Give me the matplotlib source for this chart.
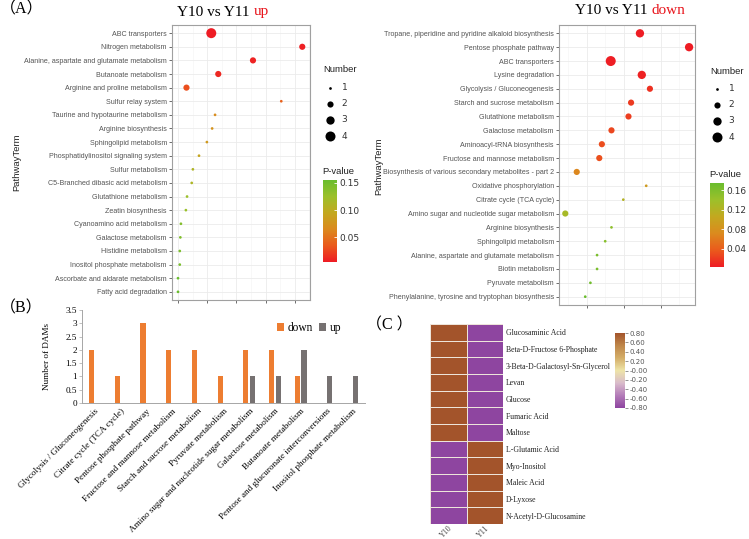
import matplotlib
matplotlib.use('Agg')
import matplotlib.pyplot as plt
import matplotlib.transforms as mtransforms
import numpy as np
from matplotlib.colors import LinearSegmentedColormap, Normalize
from matplotlib.cm import ScalarMappable
from matplotlib.ticker import FuncFormatter

W, H = 749, 539

# ---------------- data ----------------
up_terms = ["ABC transporters", "Nitrogen metabolism",
            "Alanine, aspartate and glutamate metabolism", "Butanoate metabolism",
            "Arginine and proline metabolism", "Sulfur relay system",
            "Taurine and hypotaurine metabolism", "Arginine biosynthesis",
            "Sphingolipid metabolism", "Phosphatidylinositol signaling system",
            "Sulfur metabolism", "C5-Branched dibasic acid metabolism",
            "Glutathione metabolism", "Zeatin biosynthesis",
            "Cyanoamino acid metabolism", "Galactose metabolism",
            "Histidine metabolism", "Inositol phosphate metabolism",
            "Ascorbate and aldarate metabolism", "Fatty acid degradation"]
up_x = [0.214, 0.526, 0.357, 0.238, 0.129, 0.454, 0.227, 0.217, 0.199, 0.172,
        0.151, 0.147, 0.131, 0.127, 0.110, 0.108, 0.106, 0.106, 0.100, 0.100]
up_num = [4, 2, 2, 2, 2, 1, 1, 1, 1, 1, 1, 1, 1, 1, 1, 1, 1, 1, 1, 1]
up_p = [0.005, 0.007, 0.009, 0.011, 0.030, 0.040, 0.068, 0.074, 0.080, 0.092,
        0.110, 0.112, 0.125, 0.126, 0.140, 0.142, 0.145, 0.146, 0.155, 0.155]

down_terms = ["Tropane, piperidine and pyridine alkaloid biosynthesis",
              "Pentose phosphate pathway", "ABC transporters", "Lysine degradation",
              "Glycolysis / Gluconeogenesis", "Starch and sucrose metabolism",
              "Glutathione metabolism", "Galactose metabolism",
              "Aminoacyl-tRNA biosynthesis", "Fructose and mannose metabolism",
              "Biosynthesis of various secondary metabolites - part 2",
              "Oxidative phosphorylation", "Citrate cycle (TCA cycle)",
              "Amino sugar and nucleotide sugar metabolism", "Arginine biosynthesis",
              "Sphingolipid metabolism", "Alanine, aspartate and glutamate metabolism",
              "Biotin metabolism", "Pyruvate metabolism",
              "Phenylalanine, tyrosine and tryptophan biosynthesis"]
down_x = [0.244, 0.377, 0.165, 0.249, 0.271, 0.220, 0.213, 0.167, 0.141, 0.134,
          0.073, 0.261, 0.199, 0.042, 0.167, 0.150, 0.128, 0.128, 0.110, 0.096]
down_num = [3, 3, 4, 3, 2, 2, 2, 2, 2, 2, 2, 1, 1, 2, 1, 1, 1, 1, 1, 1]
down_p = [0.004, 0.003, 0.005, 0.006, 0.015, 0.020, 0.022, 0.027, 0.030, 0.032,
          0.070, 0.090, 0.120, 0.130, 0.150, 0.155, 0.163, 0.164, 0.170, 0.175]

bar_cats = ["Glycolysis / Gluconeogenesis", "Citrate cycle (TCA cycle)",
            "Pentose phosphate pathway", "Fructose and mannose metabolism",
            "Starch and sucrose metabolism", "Pyruvate metabolism",
            "Amino sugar and nucleotide sugar metabolism", "Galactose metabolism",
            "Butanoate metabolism", "Pentose and glucuronate interconversions",
            "Inositol phosphate metabolism"]
bar_down = [2, 1, 3, 2, 2, 1, 2, 2, 1, 0, 0]
bar_up = [0, 0, 0, 0, 0, 0, 1, 1, 2, 1, 1]

heat_rows = ["Glucosaminic Acid", "Beta-D-Fructose 6-Phosphate",
             "3-Beta-D-Galactosyl-Sn-Glycerol", "Levan", "Glucose", "Fumaric Acid",
             "Maltose", "L-Glutamic Acid", "Myo-Inositol", "Maleic Acid", "D-Lyxose",
             "N-Acetyl-D-Glucosamine"]
heat_cols = ["Y10", "Y11"]
heat_y10 = [0.8, 0.8, 0.8, 0.8, 0.8, 0.8, 0.8, -0.8, -0.8, -0.8, -0.8, -0.8]
heat_y11 = [-0.8, -0.8, -0.8, -0.8, -0.8, -0.8, -0.8, 0.8, 0.8, 0.8, 0.8, 0.8]
heat_cb_ticks = [0.8, 0.6, 0.4, 0.2, 0.0, -0.2, -0.4, -0.6, -0.8]
heat_cb_labels = ["0.80", "0.60", "0.40", "0.20", "-0.00", "-0.20", "-0.40", "-0.60", "-0.80"]

# ---------------- helpers ----------------
fig = plt.figure(figsize=(W / 100, H / 100), dpi=100)
fig.patch.set_facecolor('white')


def box(x0, y0, x1, y1):
    return [x0 / W, 1 - y1 / H, (x1 - x0) / W, (y1 - y0) / H]


def fx(x):
    return x / W


def fy(y):
    return 1 - y / H


SERIF = ['Liberation Serif', 'DejaVu Serif']
SANS = ['Liberation Sans', 'DejaVu Sans']
pcmap = LinearSegmentedColormap.from_list(
    'pv', ["#EE1C24", "#EA5A1C", "#DB8A1E", "#C3A81F", "#9CC02A", "#6ABD2E"])


def dsize(n):
    return 3.8 + 16.0 * (n - 1)


def dotplot(rect, terms, xs, nums, ps, xlim, xticks, xminor):
    ax = fig.add_axes(rect)
    n = len(terms)
    ys = np.arange(n)[::-1]
    norm = Normalize(min(ps), max(ps))
    sc = ax.scatter(xs, ys, s=[dsize(v) for v in nums], c=ps, cmap=pcmap, norm=norm,
                    zorder=3, linewidths=0)
    ax.set_ylim(-0.6, n - 0.4)
    ax.set_xlim(*xlim)
    ax.set_yticks(ys)
    ax.set_yticklabels(terms, fontsize=5.15, color='#555555', family=SANS)
    ax.set_xticks(xticks)
    ax.set_xticklabels([])
    ax.set_xticks(xminor, minor=True)
    ax.grid(True, which='major', color='#EBEBEB', lw=0.6)
    ax.grid(True, which='minor', axis='x', color='#F3F3F3', lw=0.4)
    ax.set_axisbelow(True)
    ax.tick_params(which='minor', length=0)
    ax.tick_params(which='major', length=2.2, width=0.5, color='#333333', pad=1.5)
    for sp in ax.spines.values():
        sp.set_color('#A0A0A0')
        sp.set_linewidth(0.8)
    return ax, sc


def number_legend(ax, x, ytitle, yfirst):
    fig.text(fx(x), fy(ytitle), 'Number', fontsize=6.8, color='#222222', ha='left',
             va='center', family=SANS)
    handles = [ax.scatter([], [], s=dsize(v), c='black', linewidths=0) for v in [1, 2, 3, 4]]
    lg = fig.legend(handles, ['1', '2', '3', '4'], loc='upper left',
                    bbox_to_anchor=(fx(x - 2), fy(yfirst - 5)), frameon=False, fontsize=6.5,
                    labelspacing=0.8, handletextpad=0.3,
                    borderpad=0, borderaxespad=0)
    for t in lg.get_texts():
        t.set_color('#333333')


def pv_colorbar(sc, rect, ticks, title_xy):
    cax = fig.add_axes(box(*rect))
    cb = fig.colorbar(sc, cax=cax, ticks=ticks)
    cb.outline.set_visible(False)
    cax.tick_params(length=2.5, width=0.6, direction='in', color='white',
                    labelsize=6.5, labelcolor='#333333', pad=2)
    cax.yaxis.set_major_formatter(FuncFormatter(lambda v, p: f"{v:.2f}"))
    fig.text(fx(title_xy[0]), fy(title_xy[1]), 'P-value', fontsize=6.8, color='#222222',
             ha='left', va='center', family=SANS)


# ---------------- panel A left ----------------
axL, scL = dotplot(box(172, 25, 310, 300), up_terms, up_x, up_num, up_p,
                   (0.0794, 0.5525), [0.1, 0.2, 0.3, 0.4, 0.5],
                   [0.15, 0.25, 0.35, 0.45, 0.55])
number_legend(axL, 323, 70, 88)
pv_colorbar(scL, (323, 180, 337, 262), [0.05, 0.10, 0.15], (322, 172))
fig.text(fx(17), fy(162), 'PathwayTerm', rotation=90, fontsize=6.8, ha='center',
         va='center', family=SANS, color='#222222')
fig.text(fx(177), fy(12), 'Y10 vs Y11', fontsize=11, family=SERIF, ha='left', va='center')
fig.text(fx(254), fy(12), 'up', fontsize=11, family=SERIF, ha='left', va='center',
         color='#E8141B')

# ---------------- panel A right ----------------
axR, scR = dotplot(box(559, 25, 695, 305), down_terms, down_x, down_num, down_p,
                   (0.025, 0.393), [0.1, 0.2, 0.3], [0.05, 0.15, 0.25, 0.35])
number_legend(axR, 710, 71, 89)
pv_colorbar(scR, (710, 183, 724, 267), [0.04, 0.08, 0.12, 0.16], (709, 174))
fig.text(fx(379), fy(166), 'PathwayTerm', rotation=90, fontsize=6.8, ha='center',
         va='center', family=SANS, color='#222222')
fig.text(fx(575), fy(10), 'Y10 vs Y11', fontsize=11, family=SERIF, ha='left', va='center')
fig.text(fx(652), fy(10), 'down', fontsize=11, family=SERIF, ha='left', va='center',
         color='#E8141B')

# ---------------- panel B ----------------
axB = fig.add_axes(box(82, 310, 365, 403))
axB.set_facecolor('white')
xpos = np.arange(len(bar_cats))
bw = 0.2
b1 = axB.bar(xpos - 0.13, bar_down, width=bw, color='#ED7D31', label='down')
b2 = axB.bar(xpos + 0.13, bar_up, width=bw, color='#767171', label='up')
axB.set_xlim(-0.5, len(bar_cats) - 0.5)
axB.set_ylim(0, 3.5)
axB.set_yticks([0, 0.5, 1, 1.5, 2, 2.5, 3, 3.5])
axB.yaxis.set_major_formatter(FuncFormatter(lambda v, p: f"{v:g}"))
axB.set_xticks(xpos)
axB.set_xticklabels(bar_cats, rotation=45, ha='right', rotation_mode='anchor',
                    fontsize=6.6, family=SERIF)
for lab in axB.get_yticklabels():
    lab.set_family(SERIF)
    lab.set_fontsize(6.6)
axB.tick_params(axis='x', length=0, pad=3)
axB.tick_params(axis='y', length=2, width=0.5, color='#A6A6A6', pad=1.5)
for s in ['top', 'right']:
    axB.spines[s].set_visible(False)
for s in ['left', 'bottom']:
    axB.spines[s].set_color('#A6A6A6')
    axB.spines[s].set_linewidth(0.7)
fig.text(fx(47), fy(357), 'Number of DAMs', rotation=90, fontsize=6.6, family=SERIF,
         ha='center', va='center')
fig.legend([b1, b2], ['down', 'up'], loc='center left', bbox_to_anchor=(fx(277), fy(328)),
           ncol=2, frameon=False, prop={'family': SERIF, 'size': 8.3}, handlelength=0.6,
           handleheight=0.6, handletextpad=0.3, columnspacing=0.55, borderpad=0,
           borderaxespad=0)

# ---------------- panel C ----------------
hcmap = LinearSegmentedColormap.from_list(
    'hc', ["#8E45A0", "#B37CB8", "#D9BCCB", "#EEE4A8", "#D4AE68", "#BF874A", "#A3542B"])
axC = fig.add_axes(box(430, 324, 503, 524))
data = np.array([heat_y10, heat_y11]).T
axC.pcolormesh(data, cmap=hcmap, vmin=-0.8, vmax=0.8, edgecolors='#EDE4DA', linewidth=0.7)
axC.set_xlim(0, 2)
axC.set_ylim(len(heat_rows), 0)
axC.set_yticks(np.arange(len(heat_rows)) + 0.5)
axC.set_yticklabels(heat_rows, fontsize=5.6, family=SERIF, color='#222222')
axC.yaxis.tick_right()
axC.set_xticks([0.5, 1.5])
axC.set_xticklabels(heat_cols, rotation=45, ha='right', rotation_mode='anchor',
                    fontsize=5.8, family=SERIF, color='#444444')
shift = mtransforms.ScaledTranslation(4 / 100, 0, fig.dpi_scale_trans)
for lab in axC.get_xticklabels():
    lab.set_transform(lab.get_transform() + shift)
axC.tick_params(axis='y', length=0, pad=2)
axC.tick_params(axis='x', length=0, pad=0.3)
for sp in axC.spines.values():
    sp.set_visible(False)

caxC = fig.add_axes(box(615, 333, 625, 408))
cbC = fig.colorbar(ScalarMappable(Normalize(-0.8, 0.8), hcmap), cax=caxC, ticks=heat_cb_ticks)
cbC.outline.set_visible(False)
caxC.set_yticklabels(heat_cb_labels)
caxC.tick_params(length=2, width=0.5, color='#666666', labelsize=5, labelcolor='#555555',
                 pad=1)

# ---------------- panel labels ----------------
fs_lab = dict(fontsize=11.5, family=['Liberation Serif', 'Noto Sans CJK SC'], va='center',
              ha='left')
fig.text(fx(0), fy(9), '（A）', **fs_lab)
fig.text(fx(0), fy(308), '（B）', **fs_lab)
fig.text(fx(366), fy(325), '（C ）', **fs_lab)

fig.savefig('out.png', dpi=100, facecolor='white')
